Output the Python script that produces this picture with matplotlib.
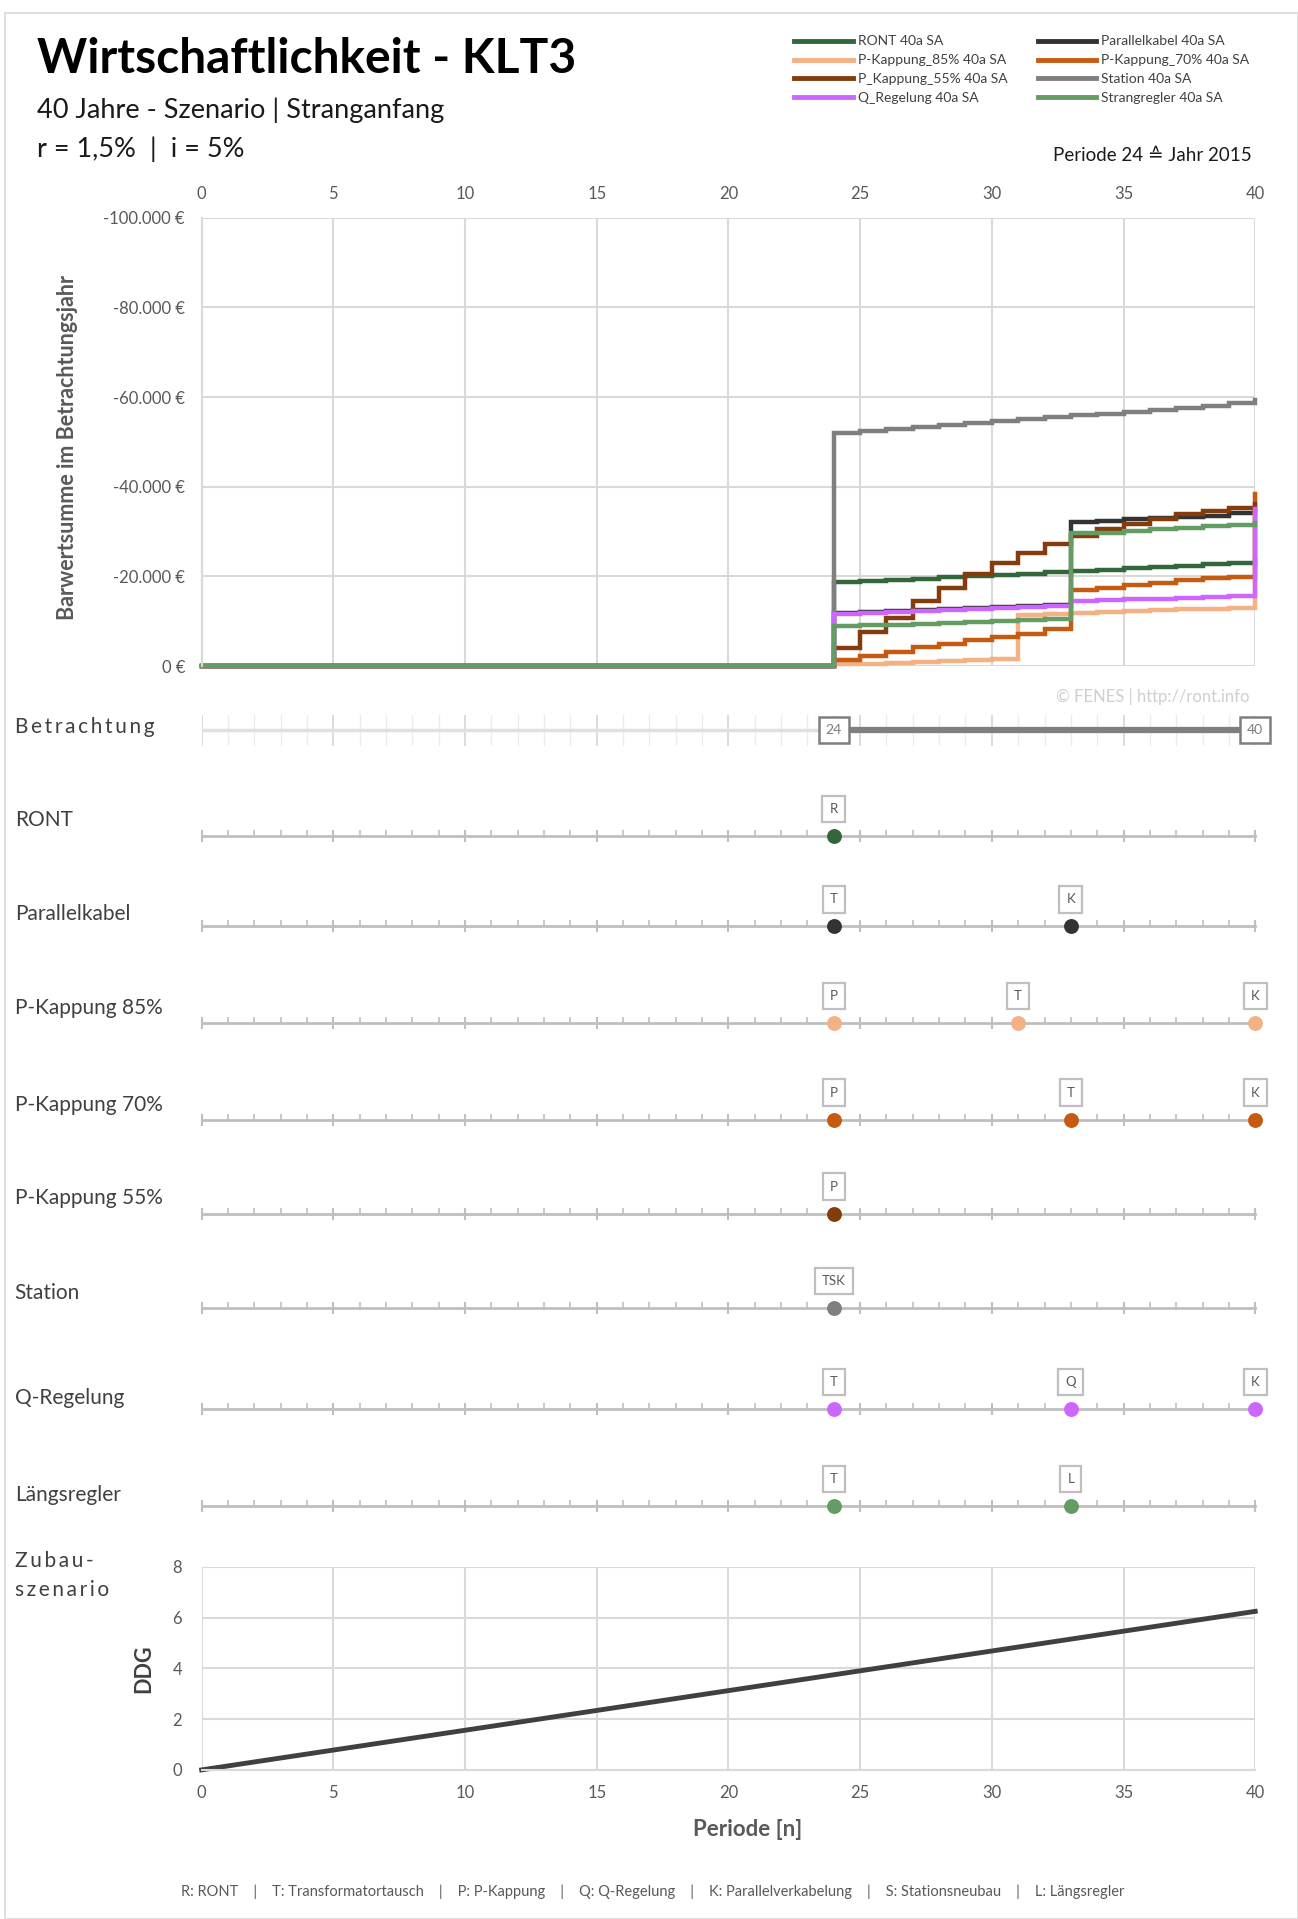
import matplotlib
matplotlib.use("Agg")
import matplotlib.pyplot as plt
from matplotlib.ticker import FuncFormatter, MultipleLocator
from matplotlib.lines import Line2D

plt.rcParams['font.family'] = ['Lato', 'DejaVu Sans']

# Barwertsumme je Periode (0..40), Kosten negativ
periods = list(range(41))
zero = [0] * 24
ront = zero + [-18736, -18959, -19257, -19480, -19777, -20075, -20298, -20595, -20892,
               -21190, -21487, -21785, -22082, -22379, -22751, -23049, -23420]
parallel = zero + [-11750, -12100, -12350, -12500, -12700, -12900, -13100, -13300, -13600,
                   -32119, -32300, -32700, -33000, -33300, -33500, -34100, -34600]
pk85 = zero + [-372, -520, -669, -818, -1041, -1264, -1487, -11301, -11524,
               -11747, -12045, -12193, -12416, -12640, -12788, -13011, -34000]
pk70 = zero + [-1264, -2230, -3123, -4238, -4981, -5725, -6468, -7212, -8178,
               -16877, -17472, -18067, -18587, -19108, -19554, -19851, -38290]
pk55 = zero + [-4089, -7584, -10781, -14498, -17472, -20446, -22900, -25130, -27138,
               -28996, -30483, -31747, -32714, -33829, -34572, -35316, -36060]
station = zero + [-52045, -52417, -52937, -53383, -53755, -54276, -54722, -55019, -55540,
                  -55911, -56283, -56729, -57026, -57473, -57993, -58588, -59331]
qreg = zero + [-11524, -11900, -12120, -12270, -12490, -12640, -12860, -13080, -13380,
               -14498, -14650, -14870, -15020, -15240, -15460, -15613, -34945]
strang = zero + [-8922, -9070, -9220, -9370, -9590, -9810, -10040, -10330, -10560,
                 -29591, -29740, -30110, -30480, -30780, -31150, -31520, -31970]

series_names = ['RONT 40a SA', 'Parallelkabel 40a SA', 'P-Kappung_85% 40a SA', 'P-Kappung_70% 40a SA',
                'P_Kappung_55% 40a SA', 'Station 40a SA', 'Q_Regelung 40a SA', 'Strangregler 40a SA']
series_values = [ront, parallel, pk85, pk70, pk55, station, qreg, strang]
series_colors = ['#33663a', '#333333', '#f4b183', '#c55a11', '#843c0c', '#7f7f7f', '#cc66ff', '#659c63']

# Massnahmen je Variante
row_names = ['RONT', 'Parallelkabel', 'P-Kappung 85%', 'P-Kappung 70%', 'P-Kappung 55%',
             'Station', 'Q-Regelung', 'Längsregler']
row_colors = ['#33663a', '#333333', '#f4b183', '#c55a11', '#843c0c', '#7f7f7f', '#cc66ff', '#659c63']
event_periods = [[24], [24, 33], [24, 31, 40], [24, 33, 40], [24], [24], [24, 33, 40], [24, 33]]
event_codes = [['R'], ['T', 'K'], ['P', 'T', 'K'], ['P', 'T', 'K'], ['P'], ['TSK'], ['T', 'Q', 'K'], ['T', 'L']]
view_start, view_end = 24, 40

# Zubauszenario
ddg_periods = [0, 40]
ddg_values = [0, 6.25]

W, H = 1062.0, 1570.0  # layout grid (reference scaled)
def fx(x):
    return x / W
def fy(y):
    return 1 - y / H

fig = plt.figure(figsize=(12.98, 19.19), dpi=100)
fig.patch.set_facecolor('white')

GRID = '#d9d9d9'
TICK = '#595959'
LEFT, RIGHT = 165, 1027

# Titel
fig.text(fx(30), fy(48), 'Wirtschaftlichkeit - KLT3', fontsize=34.5, fontweight='bold', va='center', ha='left')
fig.text(fx(30), fy(90), '40 Jahre - Szenario | Stranganfang', fontsize=19.5, va='center', color='#1a1a1a')
fig.text(fx(30), fy(122), 'r = 1,5%  |  i = 5%', fontsize=19.5, va='center', color='#1a1a1a')
fig.text(fx(1024), fy(127), 'Periode 24 \u2259 Jahr 2015', fontsize=13.5, va='center', ha='right', color='#1a1a1a')

# Hauptdiagramm
ax = fig.add_axes([fx(LEFT), fy(545), fx(RIGHT) - fx(LEFT), fy(178) - fy(545)])
for vals, col, name in zip(series_values, series_colors, series_names):
    ax.plot(periods, vals, drawstyle='steps-post', color=col, lw=3.2, label=name,
            solid_joinstyle='miter', clip_on=False)
ax.set_xlim(0, 40)
ax.set_ylim(0, -100000)
ax.xaxis.set_major_locator(MultipleLocator(5))
ax.yaxis.set_major_locator(MultipleLocator(20000))
ax.yaxis.set_major_formatter(FuncFormatter(
    lambda v, p: '0 \u20ac' if v == 0 else f'{v:,.0f}'.replace(',', '.') + ' \u20ac'))
ax.xaxis.tick_top()
ax.tick_params(axis='both', length=0, labelsize=12, labelcolor=TICK)
ax.tick_params(axis='x', pad=11)
ax.tick_params(axis='y', pad=12)
ax.grid(True, color=GRID, lw=1.5)
ax.set_axisbelow(True)
for s in ax.spines.values():
    s.set_visible(False)
ax.spines['left'].set_visible(True)
ax.spines['left'].set_color(GRID)
ax.spines['left'].set_linewidth(1.5)
fig.text(fx(55), fy(366), 'Barwertsumme im Betrachtungsjahr', rotation=90, fontsize=15.5,
         fontweight='bold', color=TICK, ha='center', va='center')
fig.text(fx(1022), fy(570), '\u00a9 FENES | http://ront.info', fontsize=12, color='#cfcfcf',
         ha='right', va='center')

# Legende
handles = [Line2D([], [], color=c, lw=3.5) for c in series_colors]
order = [0, 2, 4, 6, 1, 3, 5, 7]
fig.legend([handles[i] for i in order], [series_names[i] for i in order], ncol=2,
           loc='upper left', bbox_to_anchor=(fx(650), fy(29)), frameon=False, fontsize=10,
           handlelength=4.2, handletextpad=0.35, columnspacing=2.2, labelspacing=0.5,
           borderpad=0, borderaxespad=0, labelcolor='#404040')

def spaced(s):
    return '\u2009'.join(s)

# Betrachtungszeitraum
bx = fig.add_axes([fx(LEFT), fy(610), fx(RIGHT) - fx(LEFT), fy(585) - fy(610)])
bx.set_xlim(0, 40)
bx.set_ylim(-1, 1)
bx.xaxis.set_major_locator(MultipleLocator(5))
bx.xaxis.set_minor_locator(MultipleLocator(1))
bx.grid(True, which='major', axis='x', color='#d9d9d9', lw=1.3)
bx.grid(True, which='minor', axis='x', color='#ececec', lw=1.0)
bx.tick_params(which='both', length=0, labelbottom=False, labelleft=False)
bx.set_yticks([])
for s in bx.spines.values():
    s.set_visible(False)
bx.plot([0, view_start], [0, 0], color='#e0e0e0', lw=2.5)
bx.plot([view_start, view_end], [0, 0], color='#7f7f7f', lw=4.5, solid_capstyle='butt')
for p in (view_start, view_end):
    bx.text(p, 0, str(p), fontsize=10, color='#7f7f7f', ha='center', va='center', zorder=5,
            bbox=dict(boxstyle='square,pad=0.5', fc='white', ec='#7f7f7f', lw=1.8))
fig.text(fx(12), fy(595), spaced('Betrachtung'), fontsize=15, color='#404040', va='center')

# Massnahmenzeilen
line_y = [684, 758, 837, 916, 993, 1070, 1153, 1232]
label_y = [671, 748, 825, 904, 980, 1058, 1144, 1223]
for name, col, pers, codes, ly, ty in zip(row_names, row_colors, event_periods, event_codes, line_y, label_y):
    rx = fig.add_axes([fx(LEFT), fy(ly + 20), fx(RIGHT) - fx(LEFT), fy(ly - 20) - fy(ly + 20)])
    rx.set_xlim(0, 40)
    rx.set_ylim(-1, 1)
    for s in ('left', 'right', 'top'):
        rx.spines[s].set_visible(False)
    rx.spines['bottom'].set_position(('data', 0))
    rx.spines['bottom'].set_color('#bfbfbf')
    rx.spines['bottom'].set_linewidth(2)
    rx.xaxis.set_major_locator(MultipleLocator(5))
    rx.xaxis.set_minor_locator(MultipleLocator(1))
    rx.tick_params(axis='x', which='major', direction='inout', length=9, width=1.5, color='#bfbfbf',
                   labelbottom=False)
    rx.tick_params(axis='x', which='minor', direction='in', length=4, width=1.2, color='#bfbfbf')
    rx.set_yticks([])
    rx.patch.set_alpha(0)
    rx.scatter(pers, [0] * len(pers), s=115, color=col, zorder=5, clip_on=False, linewidths=0)
    for p, c in zip(pers, codes):
        rx.annotate(c, (p, 0), xytext=(0, 19.5), textcoords='offset points', ha='center', va='center',
                    fontsize=9.5, color='#595959', annotation_clip=False,
                    bbox=dict(boxstyle='square,pad=0.55', fc='white', ec='#bfbfbf', lw=1.6))
    fig.text(fx(12), fy(ty), name, fontsize=15, color='#404040', va='center')

# Zubauszenario
zx = fig.add_axes([fx(LEFT), fy(1448), fx(RIGHT) - fx(LEFT), fy(1282) - fy(1448)])
zx.plot(ddg_periods, ddg_values, color='#404040', lw=3.5, clip_on=False)
zx.set_xlim(0, 40)
zx.set_ylim(0, 8)
zx.xaxis.set_major_locator(MultipleLocator(5))
zx.yaxis.set_major_locator(MultipleLocator(2))
zx.tick_params(axis='both', length=0, labelsize=12, labelcolor=TICK)
zx.tick_params(axis='x', pad=11)
zx.tick_params(axis='y', pad=14)
zx.grid(True, color=GRID, lw=1.5)
zx.set_axisbelow(True)
for s in zx.spines.values():
    s.set_visible(False)
zx.spines['bottom'].set_visible(True)
zx.spines['bottom'].set_color(GRID)
zx.spines['bottom'].set_linewidth(1.5)
fig.text(fx(118), fy(1365), 'DDG', rotation=90, fontsize=15.5, fontweight='bold', color='#404040',
         ha='center', va='center')
fig.text(fx(612), fy(1497), 'Periode [n]', fontsize=16, fontweight='bold', color=TICK,
         ha='center', va='center')
fig.text(fx(12), fy(1277), spaced('Zubau-'), fontsize=15, color='#404040', va='center')
fig.text(fx(12), fy(1301), spaced('szenario'), fontsize=15, color='#404040', va='center')

footer = ('R: RONT    |    T: Transformatortausch    |    P: P-Kappung    |    Q: Q-Regelung    |    '
          'K: Parallelverkabelung    |    S: Stationsneubau    |    L: Längsregler')
fig.text(fx(534), fy(1548), footer, fontsize=10.5, color='#595959', ha='center', va='center')

# Rahmen
fig.add_artist(plt.Rectangle((0.004, 0.0), 0.996, 0.993, transform=fig.transFigure, fill=False,
                             ec='#d9d9d9', lw=1.2))

fig.savefig('out.png', dpi=100, facecolor='white')
